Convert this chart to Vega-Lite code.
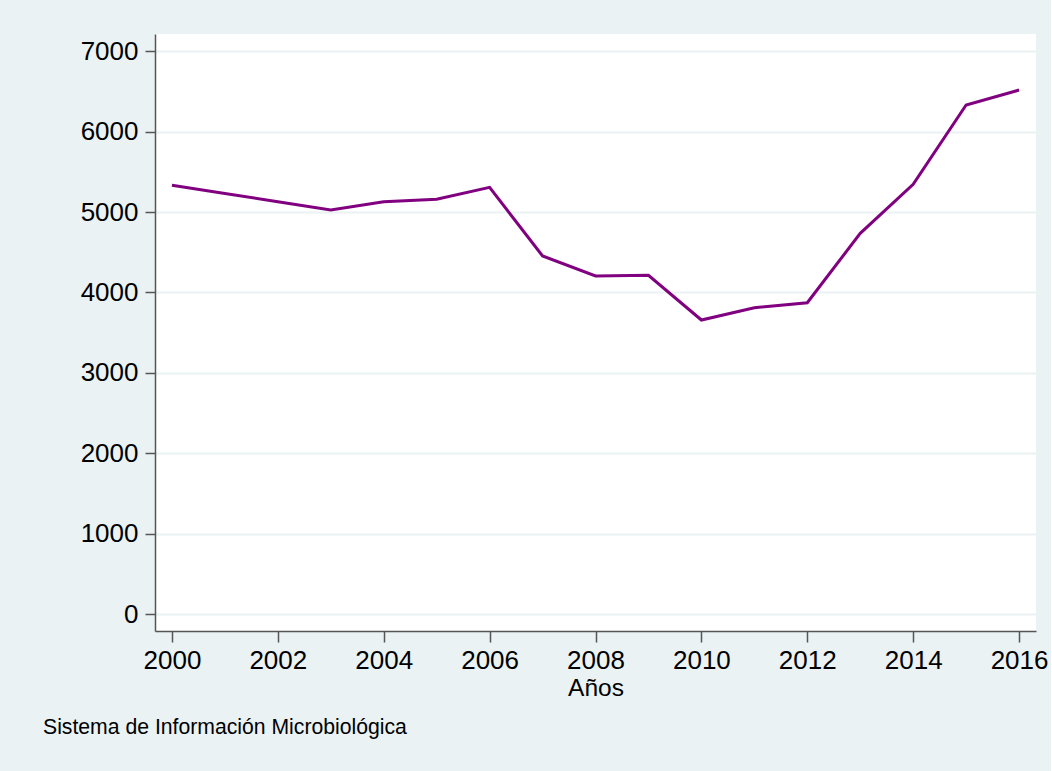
{
  "$schema": "https://vega.github.io/schema/vega-lite/v6.json",
  "width": 881,
  "height": 597,
  "autosize": "none",
  "padding": {"left": 155, "top": 34, "right": 15, "bottom": 140},
  "background": "#EAF2F3",
  "config": {
    "view": {"fill": "white", "stroke": null},
    "font": "Liberation Sans"
  },
  "title": {
    "text": "Sistema de Información Microbiológica",
    "orient": "bottom",
    "anchor": "start",
    "frame": "group",
    "dx": -112,
    "offset": 17,
    "fontSize": 21.2,
    "fontWeight": "normal",
    "color": "black",
    "font": "Liberation Sans"
  },
  "data": {
    "values": [
      {"year": 2000, "n": 5332},
      {"year": 2001, "n": 5230},
      {"year": 2002, "n": 5128},
      {"year": 2003, "n": 5025},
      {"year": 2004, "n": 5128},
      {"year": 2005, "n": 5158},
      {"year": 2006, "n": 5307},
      {"year": 2007, "n": 4453},
      {"year": 2008, "n": 4204},
      {"year": 2009, "n": 4213},
      {"year": 2010, "n": 3657},
      {"year": 2011, "n": 3810},
      {"year": 2012, "n": 3872},
      {"year": 2013, "n": 4735},
      {"year": 2014, "n": 5345},
      {"year": 2015, "n": 6331},
      {"year": 2016, "n": 6517}
    ]
  },
  "mark": {"type": "line", "color": "#800080", "strokeWidth": 3, "clip": false},
  "encoding": {
    "x": {
      "field": "year",
      "type": "quantitative",
      "scale": {"domain": [1999.68, 2016.32], "nice": false, "zero": false},
      "axis": {
        "values": [2000, 2002, 2004, 2006, 2008, 2010, 2012, 2014, 2016],
        "format": "d",
        "title": "Años",
        "grid": false,
        "domainColor": "#555555",
        "domainWidth": 1.5,
        "tickColor": "#555555",
        "tickWidth": 1.5,
        "tickSize": 11,
        "labelFontSize": 26,
        "labelColor": "black",
        "labelPadding": 5,
        "labelFlush": false,
        "labelOverlap": false,
        "titleFontSize": 24.5,
        "titleFontWeight": "normal",
        "titleColor": "black",
        "titlePadding": 3
      }
    },
    "y": {
      "field": "n",
      "type": "quantitative",
      "scale": {"domain": [-211, 7214], "nice": false, "zero": false},
      "axis": {
        "values": [0, 1000, 2000, 3000, 4000, 5000, 6000, 7000],
        "format": "d",
        "title": null,
        "grid": true,
        "gridColor": "#EAF2F3",
        "gridWidth": 2,
        "domainColor": "#555555",
        "domainWidth": 1.5,
        "tickColor": "#555555",
        "tickWidth": 1.5,
        "tickSize": 10,
        "labelFontSize": 26,
        "labelColor": "black",
        "labelPadding": 7,
        "labelFlush": false,
        "labelOverlap": false
      }
    }
  }
}
